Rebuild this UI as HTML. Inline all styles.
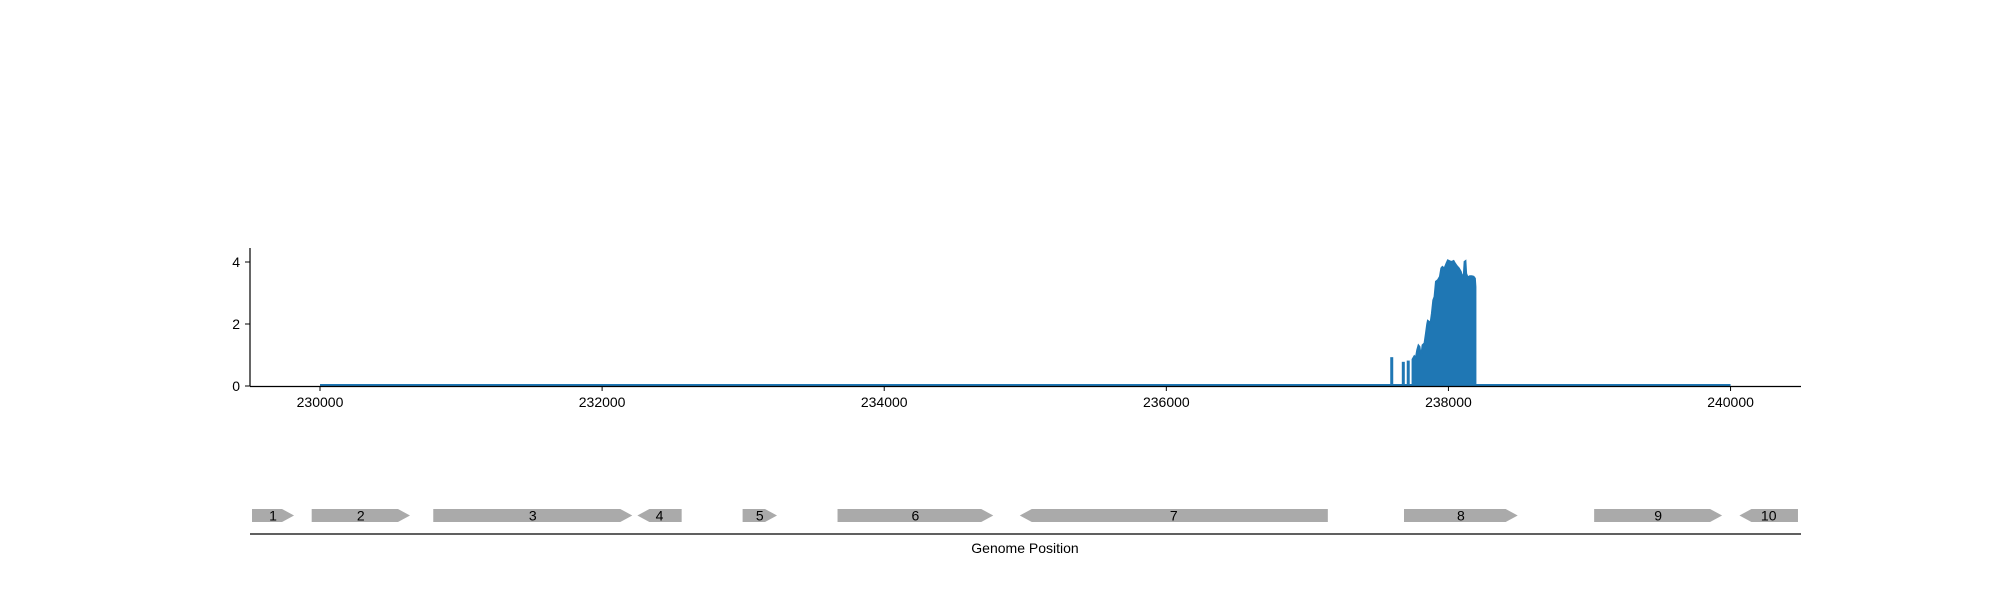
<!DOCTYPE html>
<html><head><meta charset="utf-8"><style>
body{margin:0;background:#fff}
svg text{font-family:"Liberation Sans","DejaVu Sans",sans-serif;font-size:14px;fill:#000}
</style></head><body>
<svg id="chart" width="2000" height="600" xmlns="http://www.w3.org/2000/svg"></svg>
<script>
const xTicks=[230000,232000,234000,236000,238000,240000];
const yTicks=[0,2,4];
const spikePos=[237598,237680,237715];
const spikeVal=[0.93,0.78,0.82];
const profPos=[237744,237758,237768,237777,237787,237796,237806,237815,237829,237839,237848,237853,237862,237872,237881,237891,237900,237910,237924,237938,237948,237957,237971,237985,237995,238009,238023,238037,238047,238061,238075,238089,238099,238108,238113,238122,238127,238137,238151,238165,238179,238189,238193];
const profVal=[0.86,0.97,0.92,1.16,1.32,1.27,0.97,1.32,1.38,1.70,2.0,2.11,2.08,2.04,2.34,2.77,2.88,3.37,3.42,3.53,3.80,3.85,3.80,3.96,4.06,4.03,4.01,4.04,3.96,3.87,3.80,3.69,3.51,3.63,4.01,4.04,3.63,3.51,3.55,3.55,3.53,3.47,3.2];
const geneStart=[229518,229941,230803,232250,232996,233669,234961,237685,239033,240063];
const geneEnd=[229816,230638,232214,232564,233240,234773,237145,238491,239940,240478];
const geneStrand=[1,1,1,-1,1,1,-1,1,1,-1];
const geneLabel=["1","2","3","4","5","6","7","8","9","10"];

const NS="http://www.w3.org/2000/svg";
const svg=document.getElementById('chart');
const X=v=>320+(v-230000)*0.141055;
const Y=v=>386-v*31;
function el(t,a,p){const e=document.createElementNS(NS,t);for(const k in a)e.setAttribute(k,a[k]);(p||svg).appendChild(e);return e;}
let e;
e=el('line',{x1:X(230000),x2:X(240000),y1:Y(0)-1,y2:Y(0)-1,stroke:'#1f77b4','stroke-width':2});


spikePos.forEach((p,i)=>{
 const s=el('rect',{x:X(p)-1.5,y:Y(spikeVal[i]),width:3,height:Y(0)-Y(spikeVal[i]),fill:'#1f77b4'});
 
 
});
let d='M'+X(profPos[0])+','+Y(0);
profPos.forEach((p,i)=>{d+=' L'+X(p)+','+Y(profVal[i]);});
d+=' L'+X(profPos[profPos.length-1])+','+Y(0)+' Z';
e=el('path',{d:d,fill:'#1f77b4',stroke:'#1f77b4','stroke-width':1.5});


e=el('line',{x1:250,x2:250,y1:248,y2:386.5,stroke:'#000','stroke-width':1.2});


e=el('line',{x1:250,x2:1801,y1:386.5,y2:386.5,stroke:'#000','stroke-width':1.2});


yTicks.forEach(v=>{
 el('line',{x1:245,x2:250,y1:Y(v),y2:Y(v),stroke:'#000','stroke-width':1});
 const t=el('text',{x:240,y:Y(v)+5,'text-anchor':'end'});t.textContent=v;
 
 
});
xTicks.forEach(v=>{
 el('line',{x1:X(v),x2:X(v),y1:386.5,y2:391,stroke:'#000','stroke-width':1});
 const t=el('text',{x:X(v),y:407,'text-anchor':'middle'});t.textContent=v;
 
 
});
const gTop=509,gBot=522,gMid=515.5,ah=12;
geneStart.forEach((s,i)=>{
 const a=X(s),b=X(geneEnd[i]);let pts;
 if(geneStrand[i]>0)pts=[[a,gTop],[b-ah,gTop],[b,gMid],[b-ah,gBot],[a,gBot]];
 else pts=[[a+ah,gTop],[b,gTop],[b,gBot],[a+ah,gBot],[a,gMid]];
 const g=el('polygon',{points:pts.map(p=>p.join(',')).join(' '),fill:'#aaaaaa'});
 
 
 const t=el('text',{x:(a+b)/2,y:gMid+5,'text-anchor':'middle'});t.textContent=geneLabel[i];
 
 
});
e=el('line',{x1:250,x2:1801,y1:534,y2:534,stroke:'#000','stroke-width':1.2});


e=el('text',{x:1025,y:553,'text-anchor':'middle'});e.textContent='Genome Position';


</script>
</body></html>
